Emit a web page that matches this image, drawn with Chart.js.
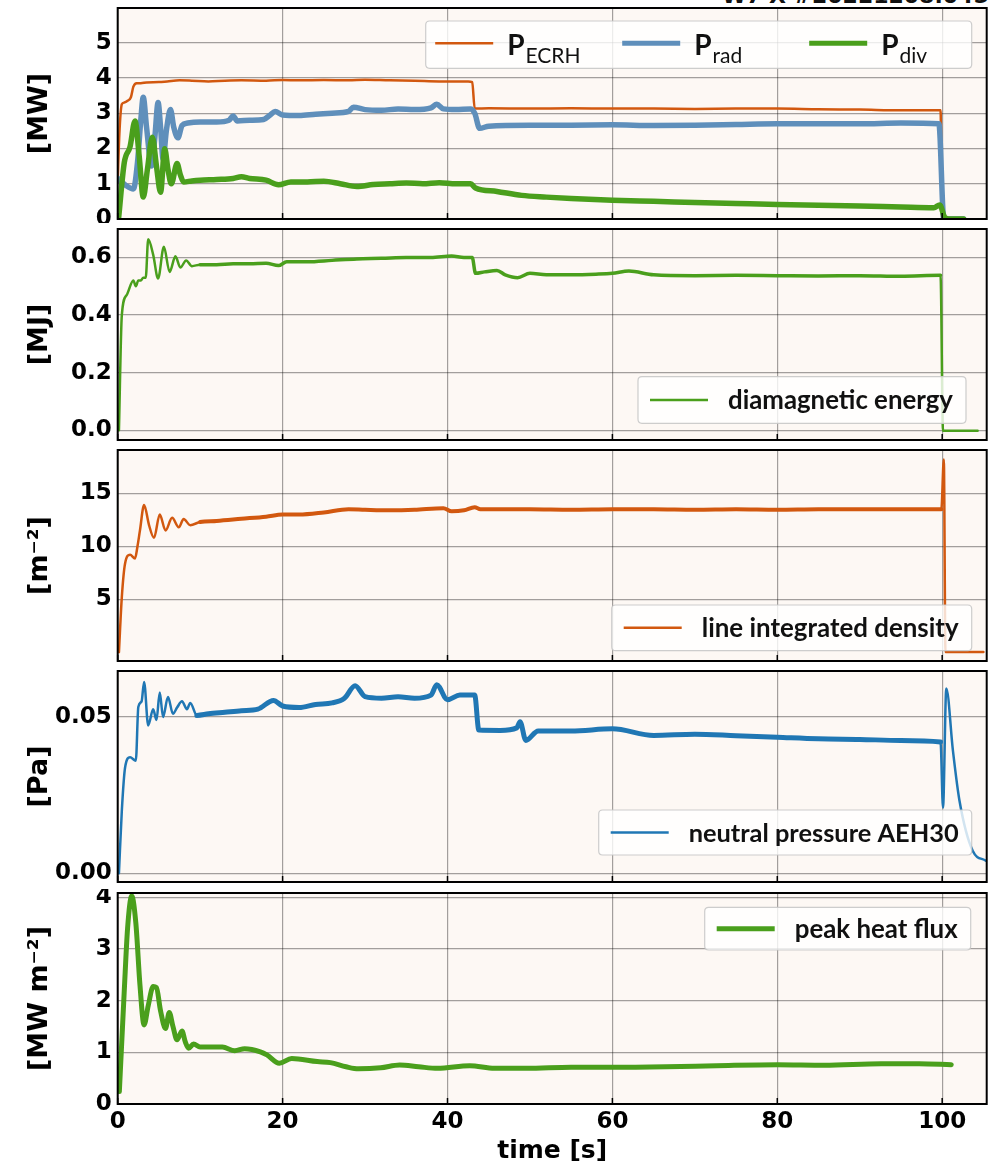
<!DOCTYPE html>
<html>
<head>
<meta charset="utf-8">
<script src="https://cdn.jsdelivr.net/npm/chart.js@4.4.0/dist/chart.umd.min.js"></script>
<style>
  html, body { margin: 0; padding: 0; background: #fff; }
  #wrap { position: relative; width: 994px; height: 1168px; overflow: hidden; }
  #wrap canvas { position: absolute; left: 0; }
  #shot { position: absolute; left: 722px; top: -15px; font: bold 22px "DejaVu Sans"; line-height: 22px; white-space: nowrap; color: #111; }
</style>
</head>
<body>
<div id="wrap">
  <div id="shot">W7-X #20221208.045</div>
  <canvas id="c1"></canvas>
  <canvas id="c2"></canvas>
  <canvas id="c3"></canvas>
  <canvas id="c4"></canvas>
  <canvas id="c5"></canvas>
</div>
<script>
// time axis ticks
const timeTicks = [0, 20, 40, 60, 80, 100];

// panel 1 : heating / radiated / divertor power [MW]
const tEcrh = [0, 0.2, 0.5, 0.8, 1.2, 1.6, 1.9, 2.3, 2.8, 3.5, 5, 6, 7.5, 9, 11, 13, 15, 18, 20, 22, 25, 28, 30, 33, 36, 39, 42.5, 43.0, 43.3, 45, 50, 55, 60, 65, 70, 75, 80, 85, 90, 95, 99.8, 100.0, 102.6];
const pEcrh = [1.05, 2.4, 3.25, 3.3, 3.35, 3.45, 3.75, 3.85, 3.85, 3.87, 3.88, 3.9, 3.93, 3.92, 3.9, 3.92, 3.93, 3.92, 3.94, 3.93, 3.94, 3.93, 3.95, 3.93, 3.92, 3.9, 3.9, 3.88, 3.13, 3.14, 3.13, 3.14, 3.13, 3.13, 3.12, 3.13, 3.13, 3.11, 3.1, 3.08, 3.08, 0, 0];

const tRad = [0, 1.0, 1.9, 2.4, 2.8, 3.1, 3.5, 4.1, 4.5, 4.9, 5.2, 5.5, 5.9, 6.4, 6.8, 7.3, 7.8, 8.5, 10, 12, 13.5, 14, 14.5, 16, 17.7, 18.5, 19.1, 20, 22, 24, 26, 28, 28.6, 30, 32, 34, 36, 38, 38.7, 39.5, 41, 42.8, 43.3, 43.9, 45, 50, 55, 60, 65, 70, 75, 80, 85, 90, 95, 99.6, 100.2, 102.6];
const pRad = [1.15, 0.95, 0.85, 1.6, 2.8, 3.45, 2.6, 1.5, 2.3, 3.3, 2.6, 1.7, 2.5, 3.1, 2.6, 2.3, 2.65, 2.72, 2.75, 2.75, 2.8, 2.92, 2.78, 2.8, 2.82, 2.95, 3.05, 2.95, 2.93, 2.97, 3.0, 3.05, 3.17, 3.1, 3.08, 3.12, 3.1, 3.15, 3.25, 3.12, 3.1, 3.12, 3.0, 2.57, 2.63, 2.66, 2.66, 2.67, 2.65, 2.66, 2.68, 2.7, 2.7, 2.7, 2.72, 2.7, 0, 0];

const tDiv = [0.1, 0.8, 1.5, 2.1, 2.6, 3.1, 3.6, 4.2, 4.7, 5.2, 5.7, 6.1, 6.5, 7.2, 7.6, 8.0, 9, 10, 12, 14, 15, 16, 18, 19.5, 21, 23, 25, 27, 29, 31, 33, 35, 37, 39, 41, 42.8, 43.4, 46, 49, 52, 55, 60, 65, 70, 75, 80, 85, 90, 95, 99, 99.7, 100.3, 100.8, 102.6];
const pDiv = [0, 1.6, 2.05, 2.78, 1.8, 0.62, 1.4, 2.32, 1.5, 0.76, 1.99, 1.4, 1.0, 1.57, 1.25, 1.05, 1.08, 1.1, 1.12, 1.15, 1.2, 1.15, 1.1, 0.97, 1.05, 1.05, 1.07, 1.0, 0.92, 0.98, 1.0, 1.02, 1.0, 1.03, 1.0, 1.0, 0.88, 0.78, 0.67, 0.62, 0.58, 0.53, 0.5, 0.47, 0.44, 0.41, 0.39, 0.37, 0.34, 0.32, 0.4, 0.05, 0, 0];

// panel 2 : diamagnetic energy [MJ]
const tWdia = [0.15, 0.5, 1.1, 1.9, 2.2, 2.5, 2.8, 3.1, 3.4, 3.7, 4.3, 4.9, 5.6, 6.3, 7.0, 7.6, 8.3, 9, 10, 12, 14, 16, 18, 19.5, 20.5, 23, 26, 29, 32, 35, 38, 40.5, 42, 43.0, 43.4, 44.5, 46, 47, 48.5, 50, 52, 55, 58, 60, 62, 65, 70, 75, 80, 85, 90, 95, 99.8, 100.1, 104.3];
const pWdia = [0.0, 0.40, 0.47, 0.52, 0.50, 0.52, 0.52, 0.53, 0.53, 0.663, 0.61, 0.527, 0.637, 0.55, 0.604, 0.565, 0.59, 0.57, 0.575, 0.575, 0.578, 0.578, 0.58, 0.572, 0.585, 0.585, 0.59, 0.595, 0.597, 0.6, 0.6, 0.605, 0.6, 0.6, 0.545, 0.55, 0.555, 0.54, 0.53, 0.545, 0.54, 0.54, 0.542, 0.545, 0.553, 0.54, 0.537, 0.538, 0.537, 0.536, 0.537, 0.535, 0.538, -0.002, -0.002];

// panel 3 : line integrated density [m^-2]
const tNe = [0.15, 0.5, 0.9, 1.5, 2.1, 2.4, 2.7, 3.2, 3.8, 4.4, 5.1, 5.8, 6.6, 7.4, 8.0, 8.8, 10, 12, 15, 18, 20, 22, 25, 28, 30, 33, 36, 39.5, 40.5, 42, 43.3, 44, 47, 50, 55, 60, 65, 70, 75, 80, 85, 90, 95, 99.9, 100.2, 100.4, 105];
const pNe = [0.0, 5.2, 8.4, 9.2, 8.85, 10.0, 11.5, 13.9, 12.0, 10.8, 13.0, 11.5, 12.7, 11.8, 12.57, 12.0, 12.3, 12.4, 12.6, 12.8, 13.0, 13.0, 13.2, 13.5, 13.45, 13.4, 13.45, 13.6, 13.3, 13.4, 13.7, 13.5, 13.5, 13.5, 13.45, 13.5, 13.5, 13.45, 13.5, 13.45, 13.5, 13.5, 13.5, 13.5, 18.2, 0.0, 0.0];

// panel 4 : neutral pressure AEH30 [Pa]
const tP0 = [0.15, 0.5, 0.9, 1.5, 2.2, 2.5, 2.9, 3.2, 3.7, 4.3, 4.7, 5.1, 5.5, 6.1, 6.7, 7.2, 7.8, 8.4, 8.8, 9.6, 11, 13, 15, 17, 18.9, 20, 22, 24, 26, 27.5, 28.8, 30, 32, 34, 36, 38, 38.7, 40, 41.5, 43.3, 43.8, 46.4, 48.4, 48.8, 49.5, 51, 55, 60, 65, 70, 75, 80, 85, 90, 95, 99.8, 100.1, 100.5, 101.3, 102.1, 103.7, 105.3];
const pP0 = [0.0, 0.020, 0.0339, 0.0371, 0.036, 0.0532, 0.055, 0.0612, 0.0473, 0.0525, 0.049, 0.0578, 0.050, 0.0564, 0.051, 0.053, 0.055, 0.0525, 0.0545, 0.0505, 0.051, 0.0515, 0.052, 0.0525, 0.0553, 0.0535, 0.053, 0.054, 0.0545, 0.056, 0.0600, 0.0565, 0.056, 0.0565, 0.056, 0.057, 0.0603, 0.0555, 0.057, 0.057, 0.0458, 0.0457, 0.0465, 0.0485, 0.0425, 0.0455, 0.0455, 0.0462, 0.0441, 0.0445, 0.044, 0.0435, 0.043, 0.0428, 0.0425, 0.042, 0.021, 0.0591, 0.0393, 0.0232, 0.0072, 0.004];

// panel 5 : peak heat flux [MW m^-2]
const tQ = [0.2, 0.8, 1.2, 1.7, 2.2, 2.7, 3.2, 3.7, 4.3, 4.7, 5.2, 5.8, 6.25, 6.7, 7.2, 7.8, 8.2, 8.6, 9.2, 10, 12.7, 14.2, 15.4, 17.3, 18.1, 19.6, 21.1, 24.2, 25.8, 27.7, 29.2, 31.9, 34.2, 36.5, 38.8, 42.7, 45.7, 49.6, 55, 60, 66.5, 72.6, 80, 85.7, 92.6, 97.2, 101.1];
const pQ = [0.24, 2.2, 3.4, 4.02, 3.5, 2.3, 1.53, 1.9, 2.27, 2.25, 1.8, 1.46, 1.77, 1.5, 1.24, 1.41, 1.2, 1.08, 1.16, 1.1, 1.1, 1.03, 1.07, 1.01, 0.95, 0.79, 0.88, 0.82, 0.8, 0.72, 0.68, 0.7, 0.754, 0.72, 0.69, 0.74, 0.69, 0.69, 0.71, 0.71, 0.72, 0.74, 0.76, 0.75, 0.78, 0.78, 0.76];

// styles
const ORANGE = '#d2580f', STEEL = '#5f8fbb', GREEN = '#4a9f1c', BLUE = '#2077b4';
const PANEL_BG = '#fdf8f4';
const GRID = 'rgba(0,0,0,0.36)';
const X_MAX = 105.4;
const PLOT_LEFT = 117.7, PLOT_RIGHT = 986.7, PLOT_H = 211;
const TICK_FONT = { family: 'DejaVu Sans', weight: 'bold', size: 23 };
const LABEL_FONT = { family: 'DejaVu Sans', weight: 'bold', size: 27 };

function pts(t, v) {
  return t.map((x, i) => ({ x: x, y: v[i] }));
}

function series(t, v, color, width, extra) {
  return Object.assign({
    data: pts(t, v),
    borderColor: color,
    borderWidth: width,
    pointRadius: 0,
    fill: false,
    borderJoinStyle: 'round',
    borderCapStyle: 'round',
    cubicInterpolationMode: 'monotone'
  }, extra || {});
}

// thicker line where the signal is noisy (flat-top phase)
function noisyWidth(thin, thick) {
  return {
    borderWidth: ctx => (ctx.p0.parsed.x > 9 && ctx.p1.parsed.x < 99.95) ? thick : thin
  };
}

function noPad(s) {
  s.paddingTop = 0;
  s.paddingBottom = 0;
  s.paddingLeft = 0;
  s.paddingRight = 0;
}

function boxPath(ctx, x, y, w, h, r) {
  ctx.beginPath();
  ctx.moveTo(x + r, y);
  ctx.lineTo(x + w - r, y);
  ctx.quadraticCurveTo(x + w, y, x + w, y + r);
  ctx.lineTo(x + w, y + h - r);
  ctx.quadraticCurveTo(x + w, y + h, x + w - r, y + h);
  ctx.lineTo(x + r, y + h);
  ctx.quadraticCurveTo(x, y + h, x, y + h - r);
  ctx.lineTo(x, y + r);
  ctx.quadraticCurveTo(x, y, x + r, y);
  ctx.closePath();
}

function drawLegend(chart, lg) {
  const ctx = chart.ctx;
  const a = chart.chartArea;
  ctx.save();
  let w = lg.width;
  let fontSize = 24;
  if (!lg.multi) {
    ctx.font = 'bold 100px Lato';
    fontSize = 100 * lg.textWidth / ctx.measureText(lg.items[0].label).width;
    w = 90 + lg.textWidth + 13;
  }
  const h = lg.height;
  const bx = a.right - lg.right - w;
  const by = lg.top != null ? a.top + lg.top : a.bottom - lg.bottom - h;
  boxPath(ctx, bx, by, w, h, 4);
  ctx.fillStyle = 'rgba(255,255,255,0.8)';
  ctx.fill();
  ctx.strokeStyle = 'rgba(200,200,200,0.9)';
  ctx.lineWidth = 1.2;
  ctx.stroke();

  if (!lg.multi) {
    const it = lg.items[0];
    const cy = by + h / 2;
    ctx.strokeStyle = it.color;
    ctx.lineWidth = it.lw;
    ctx.beginPath();
    ctx.moveTo(bx + 12, cy);
    ctx.lineTo(bx + 70, cy);
    ctx.stroke();
    ctx.fillStyle = '#111';
    ctx.font = 'bold ' + fontSize.toFixed(2) + 'px Lato';
    ctx.textBaseline = 'middle';
    ctx.fillText(it.label, bx + 90, cy + 1);
  } else {
    lg.items.forEach((it, i) => {
      const x0 = bx + 9.5 + i * 187;
      ctx.strokeStyle = it.color;
      ctx.lineWidth = it.lw;
      ctx.beginPath();
      ctx.moveTo(x0, by + 22.3);
      ctx.lineTo(x0 + 58, by + 22.3);
      ctx.stroke();
      ctx.fillStyle = '#111';
      ctx.textBaseline = 'alphabetic';
      ctx.font = 'bold 28px Lato';
      ctx.fillText(it.label, x0 + 72, by + 34);
      const pw = ctx.measureText(it.label).width;
      ctx.font = '21px Lato';
      ctx.fillText(it.sub, x0 + 72 + pw + 1, by + 42);
    });
  }
  ctx.restore();
}

function decor(legend) {
  return {
    id: 'decor',
    beforeDraw(chart) {
      const { ctx, chartArea: a } = chart;
      ctx.save();
      ctx.fillStyle = PANEL_BG;
      ctx.fillRect(a.left, a.top, a.right - a.left, a.bottom - a.top);
      ctx.restore();
    },
    afterDraw(chart) {
      const { ctx, chartArea: a } = chart;
      const x = chart.scales.x;
      ctx.save();
      ctx.strokeStyle = '#000';
      ctx.lineWidth = 1.5;
      x.ticks.forEach(t => {
        const px = x.getPixelForValue(t.value);
        ctx.beginPath();
        ctx.moveTo(px, a.bottom);
        ctx.lineTo(px, a.bottom - 6);
        ctx.stroke();
      });
      ctx.lineWidth = 2;
      ctx.strokeRect(a.left, a.top, a.right - a.left, a.bottom - a.top);
      ctx.restore();
      drawLegend(chart, legend);
    }
  };
}

function makePanel(id, top, isLast, yOpts, datasets, legend) {
  const cv = document.getElementById(id);
  const padTop = 4;
  const cvTop = top - padTop;
  const cvH = isLast ? 1168 - cvTop : PLOT_H + padTop + 4;
  cv.width = 994;
  cv.height = cvH;
  cv.style.width = '994px';
  cv.style.height = cvH + 'px';
  cv.style.top = cvTop + 'px';

  new Chart(cv, {
    type: 'line',
    data: { datasets: datasets },
    options: {
      responsive: false,
      animation: false,
      devicePixelRatio: 1,
      events: [],
      layout: { padding: { top: padTop, right: 994 - PLOT_RIGHT, bottom: 0, left: 0 } },
      plugins: { legend: { display: false }, tooltip: { enabled: false } },
      scales: {
        x: {
          type: 'linear',
          min: 0,
          max: X_MAX,
          afterBuildTicks: s => { s.ticks = timeTicks.map(v => ({ value: v })); },
          ticks: { display: isLast, font: TICK_FONT, color: '#000', padding: 4, maxRotation: 0, callback: v => String(v) },
          grid: { color: GRID, lineWidth: 1.2, drawTicks: false },
          border: { display: false },
          title: { display: isLast, text: 'time [s]', font: { family: 'DejaVu Sans', weight: 'bold', size: 25 }, color: '#000', padding: { top: 0, bottom: 2 } },
          afterFit: s => { s.height = cvH - padTop - PLOT_H; noPad(s); }
        },
        y: Object.assign({
          type: 'linear',
          grid: { color: GRID, lineWidth: 1.2, drawTicks: false },
          border: { display: false },
          afterFit: s => { s.width = PLOT_LEFT; noPad(s); }
        }, yOpts, {
          ticks: Object.assign({ font: TICK_FONT, color: '#000', padding: 6 }, yOpts.ticks),
          title: { display: true, text: yOpts.label, font: LABEL_FONT, color: '#000', padding: { top: 24, bottom: 0 } }
        })
      }
    },
    plugins: [decor(legend)]
  });
}

makePanel('c1', 8, false,
  { min: 0, max: 5.98, label: '[MW]', ticks: { stepSize: 1, includeBounds: false, callback: v => v.toFixed(0) } },
  [
    series(tEcrh, pEcrh, ORANGE, 2.5, { order: 3 }),
    series(tRad, pRad, STEEL, 5.5, { order: 2 }),
    series(tDiv, pDiv, GREEN, 5.5, { order: 1 })
  ],
  { multi: true, width: 546, height: 47.3, right: 15, top: 13,
    items: [
      { label: 'P', sub: 'ECRH', color: ORANGE, lw: 2.5 },
      { label: 'P', sub: 'rad', color: STEEL, lw: 5 },
      { label: 'P', sub: 'div', color: GREEN, lw: 5 }
    ] });

makePanel('c2', 229, false,
  { min: -0.034, max: 0.699, label: '[MJ]', ticks: { stepSize: 0.2, includeBounds: false, callback: v => v.toFixed(1) } },
  [series(tWdia, pWdia, GREEN, 2.5, { segment: noisyWidth(2.5, 3.5) })],
  { textWidth: 225, height: 46.6, right: 20.7, bottom: 16.7,
    items: [{ label: 'diamagnetic energy', color: GREEN, lw: 2.5 }] });

makePanel('c3', 450, false,
  { min: -0.84, max: 19.1, label: '[m\u207B\u00B2]',
    afterBuildTicks: s => { s.ticks = s.ticks.filter(t => t.value !== 0); },
    ticks: { stepSize: 5, includeBounds: false, callback: v => v.toFixed(0) } },
  [series(tNe, pNe, ORANGE, 2.5, { segment: noisyWidth(2.5, 4) })],
  { textWidth: 257, height: 45.7, right: 15, bottom: 10.3,
    items: [{ label: 'line integrated density', color: ORANGE, lw: 2.5 }] });

makePanel('c4', 671, false,
  { min: -0.0028, max: 0.0647, label: '[Pa]', ticks: { stepSize: 0.05, includeBounds: false, callback: v => v.toFixed(2) } },
  [series(tP0, pP0, BLUE, 2.5, { segment: noisyWidth(2.5, 5) })],
  { textWidth: 270, height: 45, right: 15, bottom: 27,
    items: [{ label: 'neutral pressure AEH30', color: BLUE, lw: 2.5 }] });

makePanel('c5', 893, true,
  { min: 0, max: 4.08, label: '[MW m\u207B\u00B2]', ticks: { stepSize: 1, includeBounds: false, callback: v => v.toFixed(0) } },
  [series(tQ, pQ, GREEN, 5)],
  { textWidth: 163, height: 42.7, right: 16, top: 14.3,
    items: [{ label: 'peak heat flux', color: GREEN, lw: 5 }] });
</script>
</body>
</html>
